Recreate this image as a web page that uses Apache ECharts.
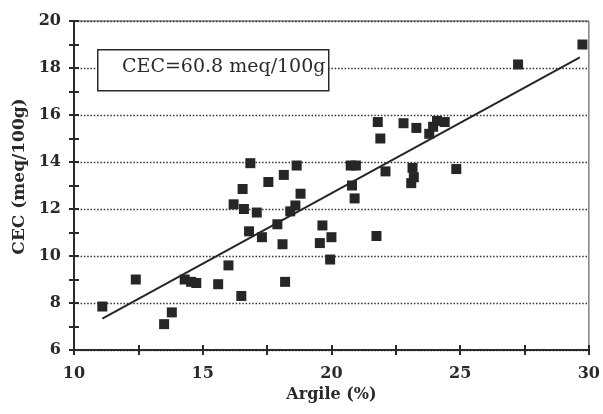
<!DOCTYPE html>
<html><head><meta charset="utf-8">
<script src="https://cdn.jsdelivr.net/npm/echarts@6/dist/echarts.min.js"></script>
<style>html,body{margin:0;padding:0;background:#fff}#c{width:603px;height:414px}</style>
</head><body><div id="c"></div>
<script>
// Argile (%) vs CEC (meq/100g)
const argile = [11.1,12.4,13.5,13.8,14.3,14.55,14.75,15.6,16.0,16.5,16.2,16.55,16.6,16.85,16.8,17.1,17.3,17.55,17.9,18.1,18.15,18.2,18.4,18.6,18.65,18.8,19.65,20.0,19.55,19.95,21.75,20.75,20.95,20.8,20.9,21.8,21.9,22.1,22.8,23.1,23.2,23.15,23.3,23.8,23.95,24.1,24.4,24.85,27.25,29.75];
const cec    = [7.85,9.0,7.1,7.6,9.0,8.9,8.85,8.8,9.6,8.3,12.2,12.85,12.0,13.95,11.05,11.85,10.8,13.15,11.35,10.5,13.45,8.9,11.9,12.15,13.85,12.65,11.3,10.8,10.55,9.85,10.85,13.85,13.85,13.0,12.45,15.7,15.0,13.6,15.65,13.1,13.35,13.75,15.45,15.2,15.5,15.75,15.7,13.7,18.15,19.0];
const fitX = [11.1, 29.65];
const fitY = [7.33, 18.45];
const xTicks = [10,15,20,25,30];
const yTicks = [6,8,10,12,14,16,18,20];
const annotation = 'CEC=60.8 meq/100g';
const xTitle = 'Argile (%)';
const yTitle = 'CEC (meq/100g)';

const pts = argile.map((x,i)=>[x,cec[i]]);
const fit = fitX.map((x,i)=>[x,fitY[i]]);
const font = 'DejaVu Serif';
const ink = '#2a2a2a';

const chart = echarts.init(document.getElementById('c'), null, {renderer:'canvas'});
const tickStyle = {color:ink, width:2};
const baseX = {
  type:'value', min:xTicks[0], max:xTicks[xTicks.length-1], interval:5, position:'bottom',
  axisLine:{show:true, onZero:false, lineStyle:{color:ink, width:2}},
  axisTick:{show:true, length:5, lineStyle:tickStyle},
  minorTick:{show:true, splitNumber:2, length:5, lineStyle:tickStyle},
  splitLine:{show:false}
};
const baseY = {
  type:'value', min:yTicks[0], max:yTicks[yTicks.length-1], interval:2, position:'left',
  axisLine:{show:true, onZero:false, lineStyle:{color:ink, width:2}},
  axisTick:{show:true, length:5, lineStyle:tickStyle},
  minorTick:{show:true, splitNumber:2, length:5, lineStyle:tickStyle}
};
chart.setOption({
  animation:false,
  backgroundColor:'#fff',
  grid:{left:74, right:9, top:21, bottom:64, show:true, borderColor:'#444', borderWidth:1},
  xAxis:[
    Object.assign({}, baseX, {
      name:xTitle, nameLocation:'middle', nameGap:36,
      nameTextStyle:{fontFamily:font, fontWeight:'bold', fontSize:16, color:ink},
      axisLabel:{fontFamily:font, fontWeight:'bold', fontSize:16, color:ink, margin:16}
    }),
    Object.assign({}, baseX, {
      axisLabel:{show:false},
      axisTick:Object.assign({}, baseX.axisTick, {inside:true})
    })
  ],
  yAxis:[
    Object.assign({}, baseY, {
      name:yTitle, nameLocation:'middle', nameGap:40,
      nameTextStyle:{fontFamily:font, fontWeight:'bold', fontSize:17, color:ink, padding:[0,0,0,18]},
      axisLabel:{fontFamily:font, fontWeight:'bold', fontSize:16, color:ink, margin:13},
      splitLine:{show:true, lineStyle:{color:'#333', type:[1.5,1.8], width:1.3}}
    }),
    Object.assign({}, baseY, {
      axisLabel:{show:false},
      axisTick:Object.assign({}, baseY.axisTick, {inside:true}),
      splitLine:{show:false}
    })
  ],
  graphic:[
    {type:'rect', left:97, top:49, shape:{width:231, height:41}, z:10,
     style:{fill:'#fff', stroke:ink, lineWidth:1.5}},
    {type:'text', left:122, top:58, z:11,
     style:{text:annotation, font:'19px "DejaVu Serif"', fill:ink}}
  ],
  series:[
    {type:'scatter', data:pts, symbol:'rect', symbolSize:10, itemStyle:{color:'#262626', opacity:1}, z:3},
    {type:'line', data:fit, symbol:'none', lineStyle:{color:'#262626', width:2}, z:4}
  ]
});
</script></body></html>
